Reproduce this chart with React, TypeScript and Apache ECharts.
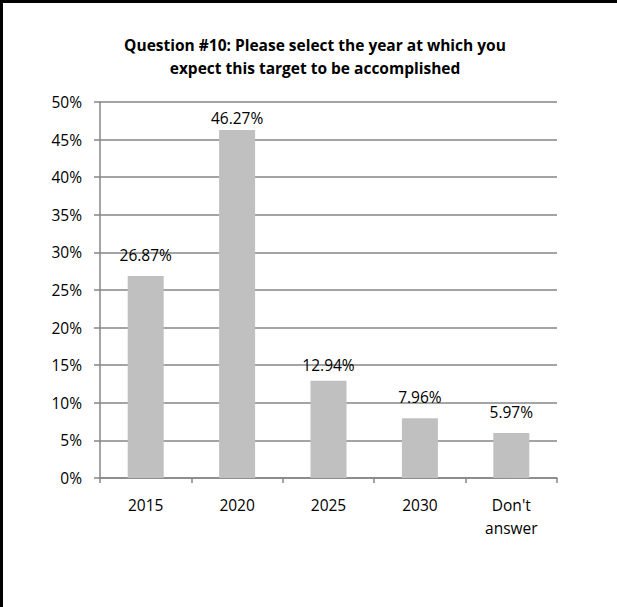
import React, { useEffect, useRef } from "react";
import * as echarts from "echarts";

const categories = ["2015", "2020", "2025", "2030", "Don't\nanswer"];
const values = [26.87, 46.27, 12.94, 7.96, 5.97];
const yTicks = { min: 0, max: 50, interval: 5 };
const title = "Question #10: Please select the year at which you\nexpect this target to be accomplished";

export default function App() {
  const ref = useRef<HTMLDivElement>(null);
  useEffect(() => {
    if (!ref.current) return;
    const chart = echarts.init(ref.current, undefined, { renderer: "svg" });
    const font = "'Open Sans', 'Noto Sans', sans-serif";
    const labelDistances = [13, 4, 8, 13, 13];
    chart.setOption({
      animation: false,
      backgroundColor: "#ffffff",
      textStyle: { fontFamily: font },
      title: {
        text: title,
        left: 310,
        top: 28,
        textAlign: "center",
        textStyle: {
          fontFamily: font,
          fontSize: 15.5,
          fontWeight: "bold",
          color: "#000000",
          lineHeight: 23,
        },
      },
      graphic: [
        { type: "rect", shape: { x: 0, y: 0, width: 3, height: 607 }, style: { fill: "#000" } },
        { type: "rect", shape: { x: 0, y: 0, width: 617, height: 3 }, style: { fill: "#000" } },
      ],
      grid: { left: 100, right: 60, top: 102, bottom: 129, containLabel: false },
      xAxis: {
        type: "category",
        data: categories,
        axisLine: { lineStyle: { color: "#868686", width: 1.5 } },
        axisTick: { show: true, length: 5, lineStyle: { color: "#868686", width: 1.5 } },
        axisLabel: {
          color: "#000",
          fontSize: 15.5,
          fontFamily: font,
          margin: 15,
          lineHeight: 23,
          interval: 0,
        },
        splitLine: { show: false },
      },
      yAxis: {
        type: "value",
        min: yTicks.min,
        max: yTicks.max,
        interval: yTicks.interval,
        axisLine: { show: true, lineStyle: { color: "#868686", width: 1.5 } },
        axisTick: { show: true, length: 6, lineStyle: { color: "#868686", width: 1.5 } },
        axisLabel: {
          color: "#000",
          fontSize: 15.5,
          fontFamily: font,
          margin: 18,
          formatter: (v: number) => `${v}%`,
        },
        splitLine: { show: true, lineStyle: { color: "#868686", width: 1.5 } },
      },
      series: [
        {
          type: "bar",
          data: values.map((v, i) => ({ value: v, label: { distance: labelDistances[i] } })),
          barWidth: 36,
          itemStyle: { color: "#c0c0c0" },
          label: {
            show: true,
            position: "top",
            distance: 13,
            color: "#000",
            fontSize: 15.5,
            fontFamily: font,
            formatter: (p: any) => `${Number(p.value).toFixed(2)}%`,
          },
        },
      ],
    });
    return () => chart.dispose();
  }, []);
  return (
    <div
      ref={ref}
      style={{ position: "absolute", left: 0, top: 0, width: 617, height: 607 }}
    />
  );
}
